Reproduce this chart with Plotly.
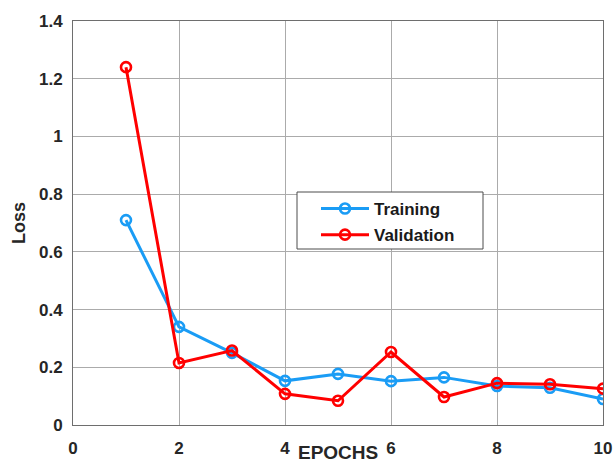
import plotly.graph_objects as go

epochs = [1, 2, 3, 4, 5, 6, 7, 8, 9, 10]
training_loss = [0.71, 0.34, 0.25, 0.153, 0.177, 0.152, 0.165, 0.135, 0.129, 0.09]
validation_loss = [1.24, 0.215, 0.258, 0.108, 0.084, 0.253, 0.097, 0.145, 0.141, 0.126]

x_ticks = [0, 2, 4, 6, 8, 10]
y_ticks = [0, 0.2, 0.4, 0.6, 0.8, 1.0, 1.2, 1.4]
y_tick_text = ["0", "0.2", "0.4", "0.6", "0.8", "1", "1.2", "1.4"]

BLUE = "#1a9cf5"
RED = "#ff0000"
FONT = "Liberation Sans, Arial, sans-serif"

# plot area in pixels
L, R, T, B = 73, 12, 21, 40
W, H = 615, 465
PW, PH = W - L - R, H - T - B


def px_x(p):
    return (p - L) / PW


def px_y(p):
    return (H - B - p) / PH


fig = go.Figure()
for name, values, color in [("Training", training_loss, BLUE),
                            ("Validation", validation_loss, RED)]:
    fig.add_trace(go.Scatter(
        x=epochs, y=values, name=name, mode="lines+markers",
        legendgroup=name,
        line=dict(color=color, width=3),
        marker=dict(symbol="circle-open", size=10, color=color,
                    line=dict(width=2.6, color=color)),
    ))

axis_common = dict(
    showgrid=True, gridcolor="#ababab", gridwidth=1,
    showline=True, linecolor="#6e6e6e", linewidth=1, mirror=True,
    zeroline=False, ticks="", automargin=False,
    tickfont=dict(family=FONT, size=17, color="#262626", weight="bold"),
)

fig.update_xaxes(range=[0, 10], tickvals=x_ticks, ticklabelstandoff=8, **axis_common)
fig.update_yaxes(range=[0, 1.4], tickvals=y_ticks, ticktext=y_tick_text,
                 ticklabelstandoff=6,
                 title=dict(text="Loss", standoff=8,
                            font=dict(family=FONT, size=18, color="#262626", weight="bold")),
                 **axis_common)

fig.add_annotation(
    text="EPOCHS", xref="paper", yref="paper", x=0.5, y=px_y(465),
    xanchor="center", yanchor="bottom", showarrow=False,
    font=dict(family=FONT, size=19, color="#262626", weight="bold"),
)

# legend frame
fig.add_shape(
    type="rect", xref="paper", yref="paper", layer="above",
    x0=px_x(297), x1=px_x(483), y0=px_y(249), y1=px_y(192),
    fillcolor="white", line=dict(color="#4d4d4d", width=1),
)

fig.update_layout(
    width=W, height=H,
    margin=dict(l=L, r=R, t=T, b=B),
    plot_bgcolor="white", paper_bgcolor="white",
    showlegend=True,
    legend=dict(
        x=px_x(316), y=px_y(191), xanchor="left", yanchor="top",
        bgcolor="rgba(0,0,0,0)", borderwidth=0,
        font=dict(family=FONT, size=17, color="#1a1a1a", weight="bold"),
        itemwidth=48, tracegroupgap=1,
    ),
)

fig.write_html("out.html")
